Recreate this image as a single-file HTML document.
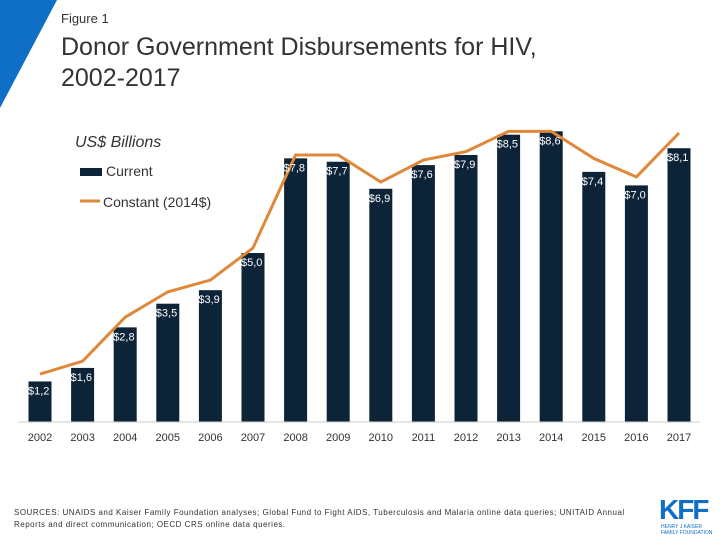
<!DOCTYPE html>
<html><head><meta charset="utf-8"><style>
body{margin:0;width:720px;height:540px;background:#fff;overflow:hidden;font-family:"Liberation Sans",sans-serif;position:relative}
.t{position:absolute;white-space:nowrap}
</style></head><body>
<svg width="720" height="540" style="position:absolute;left:0;top:0">
<polygon points="0,0 57,0 0,108" fill="#0f6fc6"/>
<g id="bars"></g><g id="line"></g><g id="labels"></g>
<line x1="18" y1="422" x2="700" y2="422" stroke="#ccc" stroke-width="1"/>
<g id="xt"></g>
<rect x="80" y="168" width="22" height="8" fill="#0c2338"/>
<line x1="80" y1="201" x2="100" y2="201" stroke="#e0883a" stroke-width="3"/>
</svg>
<div class="t" style="left:61px;top:11px;font-size:13px;color:#333">Figure 1</div>
<div class="t" style="left:61px;top:32px;font-size:25px;color:#333;line-height:31px">Donor Government Disbursements for HIV,<br>2002-2017</div>
<div class="t" style="left:75px;top:134px;font-size:16px;font-style:italic;color:#333">US$ Billions</div>
<div class="t" style="left:106px;top:163px;font-size:14px;color:#333">Current</div>
<div class="t" style="left:103px;top:194px;font-size:14px;color:#333">Constant (2014$)</div>
<div class="t" style="left:14px;top:507px;font-size:8px;color:#333;line-height:12px;letter-spacing:0.5px">SOURCES: UNAIDS and Kaiser Family Foundation analyses; Global Fund to Fight AIDS, Tuberculosis and Malaria online data queries; UNITAID Annual<br>Reports and direct communication; OECD CRS online data queries.</div>
<div class="t" style="left:659px;top:494px;font-size:28px;font-weight:bold;color:#0f6fc6;letter-spacing:-2px">KFF</div>
<div class="t" style="left:661px;top:524px;font-size:5px;color:#0f6fc6;line-height:6px">HENRY J KAISER<br>FAMILY FOUNDATION</div>
<script>
const years=["2002","2003","2004","2005","2006","2007","2008","2009","2010","2011","2012","2013","2014","2015","2016","2017"];
const current=[1.2,1.6,2.8,3.5,3.9,5.0,7.8,7.7,6.9,7.6,7.9,8.5,8.6,7.4,7.0,8.1];
const constant=[1.42,1.8,3.1,3.85,4.2,5.15,7.9,7.9,7.1,7.75,8.0,8.6,8.6,7.8,7.25,8.55];
const labelsTxt=["$1,2","$1,6","$2,8","$3,5","$3,9","$5,0","$7,8","$7,7","$6,9","$7,6","$7,9","$8,5","$8,6","$7,4","$7,0","$8,1"];
const NS="http://www.w3.org/2000/svg";
const x=i=>40+i*42.6, y=v=>422-v*33.8;
const B=document.getElementById('bars'),L=document.getElementById('labels'),X=document.getElementById('xt'),LN=document.getElementById('line');
current.forEach((v,i)=>{
 const r=document.createElementNS(NS,'rect');
 r.setAttribute('x',x(i)-11.5);r.setAttribute('y',y(v));r.setAttribute('width',23);r.setAttribute('height',422-y(v));r.setAttribute('fill','#0c2338');
 
 
 B.appendChild(r);
 const t=document.createElementNS(NS,'text');
 t.setAttribute('x',x(i)-12);t.setAttribute('y',y(v)+13);t.setAttribute('fill','#fff');t.setAttribute('font-size','11');t.textContent=labelsTxt[i];
 
 
 L.appendChild(t);
 const xt=document.createElementNS(NS,'text');
 xt.setAttribute('x',x(i));xt.setAttribute('y',441);xt.setAttribute('text-anchor','middle');xt.setAttribute('font-size','11');xt.setAttribute('fill','#333');xt.textContent=years[i];
 
 
 X.appendChild(xt);
});
const p=document.createElementNS(NS,'polyline');
p.setAttribute('points',constant.map((v,i)=>x(i)+','+y(v)).join(' '));
p.setAttribute('fill','none');p.setAttribute('stroke','#e0883a');p.setAttribute('stroke-width','3');


LN.appendChild(p);
</script>
</body></html>
